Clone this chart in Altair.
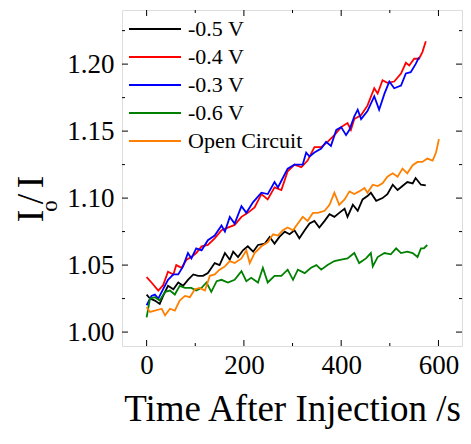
import altair as alt
import pandas as pd

# ---------------- data ----------------
series_names = ["-0.5 V", "-0.4 V", "-0.3 V", "-0.6 V", "Open Circuit"]
series_colors = ["#000000", "#ff0000", "#0000ff", "#008000", "#ff8000"]

t_m05 = [0, 7, 17, 27, 34, 44, 55, 65, 75, 85, 96, 106, 116, 126, 140, 150, 161, 171, 178, 188,
         198, 208, 219, 229, 243, 253, 263, 273, 284, 294, 304, 314, 325, 335, 345, 355, 366, 376,
         386, 396, 407, 413, 424, 434, 444, 454, 461, 472, 485, 495, 506, 516, 526, 536, 547, 553,
         564, 574]
v_m05 = [1.028, 1.025, 1.0235, 1.021, 1.027, 1.0345, 1.032, 1.037, 1.0345, 1.039, 1.043, 1.042,
         1.042, 1.044, 1.0515, 1.050, 1.059, 1.054, 1.060, 1.056, 1.061, 1.064, 1.060, 1.065, 1.066,
         1.071, 1.066, 1.071, 1.075, 1.073, 1.076, 1.070, 1.076, 1.081, 1.083, 1.078, 1.083, 1.088,
         1.086, 1.089, 1.092, 1.086, 1.095, 1.0905, 1.099, 1.1015, 1.104, 1.098, 1.100, 1.103, 1.110,
         1.106, 1.109, 1.112, 1.111, 1.115, 1.110, 1.1095]

t_m04 = [0, 10, 24, 34, 44, 55, 61, 72, 82, 92, 102, 113, 126, 140, 154, 167, 181, 195, 208, 222,
         236, 249, 263, 277, 290, 304, 318, 331, 345, 359, 372, 386, 400, 413, 420, 427, 441, 454,
         468, 475, 485, 495, 509, 523, 533, 540, 550, 560, 567, 574]
v_m04 = [1.041, 1.037, 1.031, 1.035, 1.045, 1.043, 1.050, 1.048, 1.054, 1.056, 1.059, 1.064, 1.065,
         1.070, 1.076, 1.078, 1.080, 1.086, 1.089, 1.093, 1.103, 1.099, 1.108, 1.106, 1.120, 1.125,
         1.123, 1.128, 1.138, 1.138, 1.142, 1.147, 1.153, 1.156, 1.151, 1.159, 1.162, 1.169, 1.182,
         1.178, 1.188, 1.186, 1.187, 1.193, 1.201, 1.199, 1.204, 1.204, 1.209, 1.217]

t_m03 = [0, 10, 17, 24, 34, 44, 55, 65, 75, 85, 92, 102, 113, 126, 140, 154, 161, 171, 181, 195,
         205, 219, 236, 249, 263, 270, 280, 290, 304, 321, 328, 335, 345, 359, 369, 379, 390, 400,
         410, 417, 427, 434, 441, 454, 468, 478, 489, 499, 509, 523, 533, 543, 553, 560]
v_m03 = [1.020, 1.027, 1.028, 1.025, 1.032, 1.039, 1.043, 1.043, 1.049, 1.059, 1.055, 1.0625, 1.061,
         1.0686, 1.072, 1.0795, 1.075, 1.086, 1.081, 1.094, 1.089, 1.097, 1.104, 1.103, 1.112, 1.108,
         1.115, 1.122, 1.125, 1.125, 1.134, 1.131, 1.134, 1.137, 1.142, 1.139, 1.151, 1.153, 1.147,
         1.151, 1.161, 1.166, 1.159, 1.165, 1.176, 1.166, 1.178, 1.187, 1.182, 1.184, 1.193, 1.194,
         1.200, 1.205]

t_m06 = [0, 7, 17, 27, 38, 48, 58, 68, 79, 92, 102, 113, 123, 133, 144, 154, 167, 181, 195, 205,
         215, 229, 239, 249, 263, 277, 290, 301, 311, 325, 338, 349, 359, 372, 386, 400, 413, 427,
         437, 451, 461, 465, 475, 489, 502, 513, 523, 536, 547, 557, 564, 570, 577]
v_m06 = [1.011, 1.025, 1.026, 1.0235, 1.030, 1.031, 1.028, 1.0345, 1.033, 1.033, 1.031, 1.033, 1.037,
         1.030, 1.038, 1.039, 1.037, 1.039, 1.0455, 1.038, 1.0405, 1.037, 1.048, 1.037, 1.042, 1.042,
         1.0466, 1.039, 1.0466, 1.044, 1.048, 1.050, 1.0466, 1.050, 1.053, 1.054, 1.055, 1.059,
         1.0515, 1.055, 1.059, 1.049, 1.056, 1.059, 1.058, 1.0625, 1.059, 1.060, 1.059, 1.056,
         1.0625, 1.0625, 1.065]

t_oc = [0, 7, 17, 31, 38, 48, 58, 68, 79, 89, 99, 109, 120, 130, 140, 150, 161, 171, 181, 195, 205,
        212, 222, 236, 249, 260, 270, 280, 290, 301, 311, 321, 331, 342, 352, 366, 376, 386, 396,
        407, 417, 427, 437, 448, 454, 465, 475, 485, 495, 506, 516, 526, 536, 547, 557, 567, 577,
        588, 595, 601]
v_oc = [1.0186, 1.015, 1.016, 1.0174, 1.0125, 1.0174, 1.016, 1.0235, 1.027, 1.026, 1.032, 1.033,
        1.031, 1.042, 1.043, 1.0466, 1.049, 1.053, 1.0515, 1.055, 1.061, 1.0515, 1.059, 1.064, 1.067,
        1.073, 1.072, 1.076, 1.078, 1.076, 1.081, 1.086, 1.083, 1.089, 1.089, 1.0905, 1.095, 1.104,
        1.095, 1.099, 1.105, 1.103, 1.105, 1.1075, 1.104, 1.110, 1.109, 1.111, 1.116, 1.1185, 1.116,
        1.122, 1.1185, 1.1246, 1.127, 1.127, 1.1295, 1.128, 1.134, 1.144]

x_major = [0, 200, 400, 600]
x_minor = [100, 300, 500]
y_major = [1.00, 1.05, 1.10, 1.15, 1.20]
y_minor = [1.025, 1.075, 1.125, 1.175, 1.225]

x_domain = [-50.6, 648.4]
y_domain = [0.9896, 1.2404]

# ---------------- build tables ----------------
all_t = [t_m05, t_m04, t_m03, t_m06, t_oc]
all_v = [v_m05, v_m04, v_m03, v_m06, v_oc]
rows = []
for order, (name, ts, vs) in enumerate(zip(series_names, all_t, all_v)):
    for t, v in zip(ts, vs):
        rows.append({"series": name, "t": t, "v": v, "o": order})
df = pd.DataFrame(rows)

W, H = 340, 336
FONT = "Liberation Serif"

xs = alt.Scale(domain=x_domain, nice=False, zero=False)
ys = alt.Scale(domain=y_domain, nice=False, zero=False)

lines = alt.Chart(df).mark_line(strokeWidth=1.8, interpolate="linear").encode(
    x=alt.X("t:Q", scale=xs,
            axis=alt.Axis(values=x_major, format="d", title="Time After Injection /s",
                          labelFont=FONT, labelFontSize=27, labelColor="black", labelPadding=6,
                          titleFont=FONT, titleFontSize=37, titleFontWeight="normal",
                          titleColor="black", titlePadding=13,
                          domain=False, ticks=False, grid=False)),
    y=alt.Y("v:Q", scale=ys,
            axis=alt.Axis(values=y_major, format=".2f", title=None,
                          labelFont=FONT, labelFontSize=27, labelColor="black", labelPadding=8,
                          domain=False, ticks=False, grid=False)),
    color=alt.Color("series:N",
                    scale=alt.Scale(domain=series_names, range=series_colors),
                    legend=alt.Legend(title=None, orient="none", legendX=6, legendY=8,
                                      symbolType="stroke", symbolSize=2704,
                                      symbolStrokeWidth=2, labelFont=FONT, labelFontSize=22,
                                      labelColor="black", labelOffset=6, rowPadding=6,
                                      clipHeight=22, padding=0)),
    detail="o:O",
    order=alt.Order("t:Q"),
)

def yticks(vals, x0, x1):
    return alt.Chart(pd.DataFrame({"v": vals})).mark_rule(color="black", strokeWidth=1).encode(
        y=alt.Y("v:Q", scale=ys), x=alt.value(x0), x2=alt.value(x1))

def xticks(vals, y0, y1):
    return alt.Chart(pd.DataFrame({"t": vals})).mark_rule(color="black", strokeWidth=1).encode(
        x=alt.X("t:Q", scale=xs), y=alt.value(y0), y2=alt.value(y1))

ticks = [
    yticks(y_major, 0, 6), yticks(y_minor, 0, 3),
    yticks(y_major, W - 6, W), yticks(y_minor, W - 3, W),
    xticks(x_major, H - 6, H), xticks(x_minor, H - 3, H),
    xticks(x_major, 0, 6), xticks(x_minor, 0, 3),
]

title_df = pd.DataFrame({"a": [0]})

def ytitle(txt, size, x, y):
    return alt.Chart(title_df).mark_text(text=txt, font=FONT, fontSize=size, angle=270,
                                         align="center", baseline="alphabetic",
                                         color="black").encode(x=alt.value(x), y=alt.value(y))

title_parts = [
    ytitle("I", 38, -79, 206),
    ytitle("o", 23, -65, 196),
    ytitle("/", 38, -79, 189),
    ytitle("I", 38, -79, 172),
]

chart = alt.layer(lines, *ticks, *title_parts).properties(
    width=W, height=H,
    padding={"left": 114, "top": 2, "right": 1, "bottom": 84},
    autosize=alt.AutoSizeParams(type="none"),
).configure_view(stroke="black", strokeWidth=1.5).configure(background="white")

chart.save("out.html", embed_options={"renderer": "svg", "actions": False})
